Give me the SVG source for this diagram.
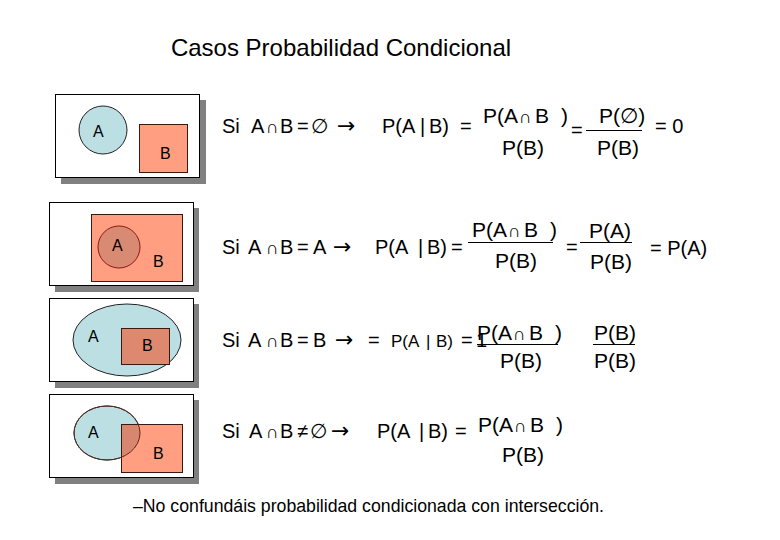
<svg xmlns="http://www.w3.org/2000/svg" width="780" height="540" viewBox="0 0 780 540">
<style>
text{font-family:"Liberation Sans",Arial,"DejaVu Sans",sans-serif;fill:#000}
.t{font-size:20px}
.f{font-size:21px}
.s{font-size:18px}
.ar{font-size:22px;font-family:"DejaVu Sans",sans-serif}
.lbl{font-size:16px}
.box{fill:#fff;stroke:#000;stroke-width:1}
.sh{fill:#808080}
.blue{fill:#BCDFE3;stroke:#222;stroke-width:1}
.sal{fill:#FF9E80;stroke:#3a1a10;stroke-width:1}
.dk{fill:#D9866F}
.fl{stroke:#000;stroke-width:1}
</style>
<rect width="780" height="540" fill="#fff"/>
<text x="341" y="56" text-anchor="middle" style="font-size:24px">Casos Probabilidad Condicional</text>

<g id="panel1">
<rect class="sh" x="61" y="100" width="145" height="84"/>
<rect class="box" x="55.5" y="94.5" width="144" height="83"/>
<circle class="blue" cx="103" cy="130" r="24"/>
<rect class="sal" x="139.5" y="124.5" width="48" height="48"/>
<text class="lbl" x="93" y="137">A</text>
<text class="lbl" x="160" y="159">B</text>
</g>

<g id="panel2">
<rect class="sh" x="55" y="208" width="144" height="84"/>
<rect class="box" x="49.5" y="202.5" width="144" height="83"/>
<rect class="sal" x="91.5" y="214.5" width="91" height="67"/>
<circle cx="119" cy="247" r="21" fill="#D98A72" stroke="#8B1A1A" stroke-width="1"/>
<text class="lbl" x="112" y="251">A</text>
<text class="lbl" x="153" y="267">B</text>
</g>

<g id="panel3">
<rect class="sh" x="55" y="304" width="144" height="84"/>
<rect class="box" x="49.5" y="298.5" width="144" height="83"/>
<ellipse class="blue" cx="127" cy="340" rx="54" ry="36"/>
<rect x="121.5" y="328.5" width="48" height="36" fill="#DE8870" stroke="#3a1a10" stroke-width="1"/>
<text class="lbl" x="88" y="342">A</text>
<text class="lbl" x="142" y="351">B</text>
</g>

<g id="panel4">
<defs><clipPath id="cl"><ellipse cx="107" cy="433" rx="33" ry="27"/></clipPath></defs>
<rect class="sh" x="55" y="400" width="144" height="84"/>
<rect class="box" x="49.5" y="394.5" width="144" height="83"/>
<ellipse class="blue" cx="107" cy="433" rx="33" ry="27"/>
<rect class="sal" x="121.5" y="424.5" width="61" height="48"/>
<rect class="dk" x="122" y="425" width="60" height="47" clip-path="url(#cl)"/>
<ellipse cx="107" cy="433" rx="33" ry="27" fill="none" stroke="#5a2a20" stroke-width="1"/>
<text class="lbl" x="88" y="438">A</text>
<text class="lbl" x="153" y="459">B</text>
</g>

<g id="row1">
<text class="t" y="133"><tspan x="222">Si</tspan><tspan x="251">A</tspan><tspan x="266" class="s">∩</tspan><tspan x="280">B</tspan><tspan x="297">=</tspan><tspan x="311">∅</tspan><tspan x="337" class="ar">→</tspan><tspan x="382">P(A</tspan><tspan x="420">|</tspan><tspan x="429">B)</tspan><tspan x="460">=</tspan></text>
<text class="f" y="123"><tspan x="483">P(A</tspan><tspan x="519" class="s">∩</tspan><tspan x="535">B</tspan><tspan x="561">)</tspan></text>
<text class="f" x="502" y="155">P(B)</text>
<text class="t" x="571" y="137">=</text>
<text class="f" x="599" y="123">P(∅)</text>
<line class="fl" x1="586" y1="130.5" x2="642" y2="130.5"/>
<text class="f" x="597" y="155">P(B)</text>
<text class="t" x="655" y="133">= 0</text>
</g>

<g id="row2">
<text class="t" y="254"><tspan x="222">Si</tspan><tspan x="248">A</tspan><tspan x="266" class="s">∩</tspan><tspan x="280">B</tspan><tspan x="297">=</tspan><tspan x="313">A</tspan><tspan x="333" class="ar">→</tspan><tspan x="375">P(A</tspan><tspan x="418">|</tspan><tspan x="427">B)</tspan><tspan x="451">=</tspan></text>
<text class="f" y="237"><tspan x="472">P(A</tspan><tspan x="508" class="s">∩</tspan><tspan x="524">B</tspan><tspan x="550">)</tspan></text>
<line class="fl" x1="468" y1="242.5" x2="553" y2="242.5"/>
<text class="f" x="495" y="268">P(B)</text>
<text class="t" x="566" y="254">=</text>
<text class="f" x="589" y="238">P(A)</text>
<line class="fl" x1="580" y1="242.5" x2="632" y2="242.5"/>
<text class="f" x="590" y="269">P(B)</text>
<text class="t" x="650" y="255">= P(A)</text>
</g>

<g id="row3">
<text class="t" y="347"><tspan x="222">Si</tspan><tspan x="248">A</tspan><tspan x="266" class="s">∩</tspan><tspan x="280">B</tspan><tspan x="297">=</tspan><tspan x="313">B</tspan><tspan x="335" class="ar">→</tspan><tspan x="368">=</tspan><tspan x="391" style="font-size:17px">P(A</tspan><tspan x="426" style="font-size:17px">|</tspan><tspan x="436" style="font-size:17px">B)</tspan><tspan x="461">=</tspan><tspan x="476">1</tspan></text>
<text class="f" y="340"><tspan x="477">P(A</tspan><tspan x="513" class="s">∩</tspan><tspan x="529">B</tspan><tspan x="555">)</tspan></text>
<line class="fl" x1="477" y1="344.5" x2="558" y2="344.5"/>
<text class="f" x="500" y="368">P(B)</text>
<text class="f" x="594" y="340">P(B)</text>
<line class="fl" x1="593" y1="344.5" x2="635" y2="344.5"/>
<text class="f" x="594" y="368">P(B)</text>
</g>

<g id="row4">
<text class="t" y="438"><tspan x="222">Si</tspan><tspan x="249">A</tspan><tspan x="266" class="s">∩</tspan><tspan x="280">B</tspan><tspan x="297">≠</tspan><tspan x="310">∅</tspan><tspan x="331" class="ar">→</tspan><tspan x="377">P(A</tspan><tspan x="419">|</tspan><tspan x="428">B)</tspan><tspan x="455">=</tspan></text>
<text class="f" y="432"><tspan x="478">P(A</tspan><tspan x="514" class="s">∩</tspan><tspan x="530">B</tspan><tspan x="556">)</tspan></text>
<text class="f" x="502" y="462">P(B)</text>
</g>

<text x="133" y="512" style="font-size:17.7px">–No confundáis probabilidad condicionada con intersección.</text>
</svg>
